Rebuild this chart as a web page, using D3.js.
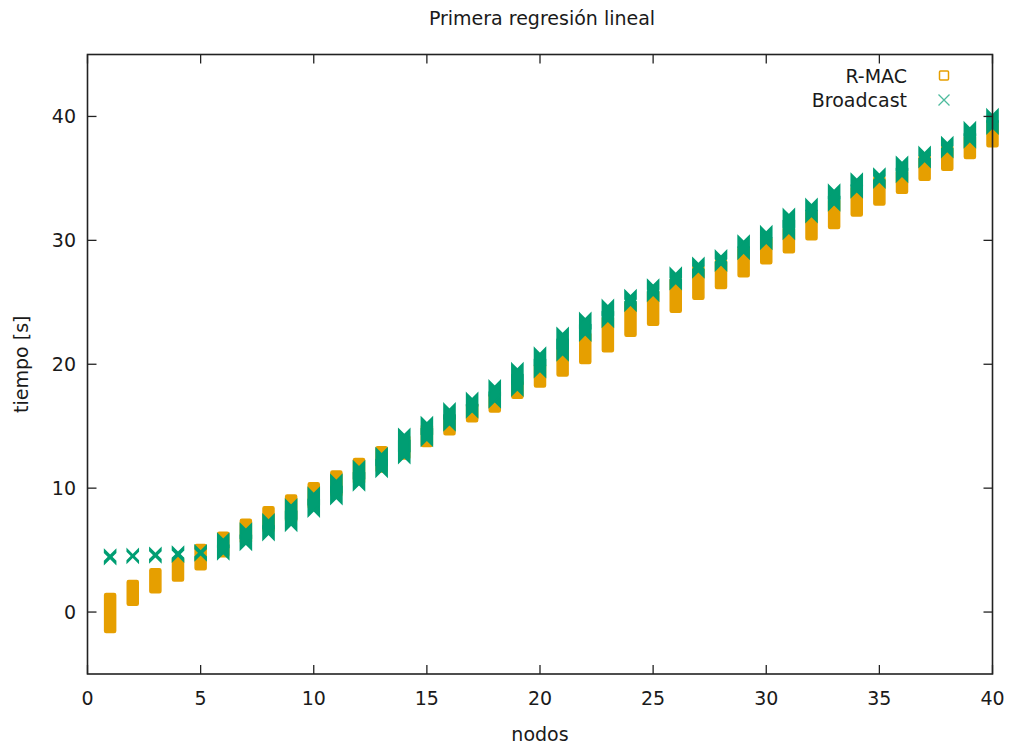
<!DOCTYPE html>
<html>
<head>
<meta charset="utf-8">
<script src="https://cdn.jsdelivr.net/npm/d3@7"></script>
<style>
  body { margin: 0; background: #fff; }
  text { font-family: "DejaVu Sans", sans-serif; fill: #1a1a1a; }
</style>
</head>
<body>
<svg width="1013" height="749"></svg>
<script>
// values: for each node count, lowest and highest time of each series
var nodos = [1, 2, 3, 4, 5, 6, 7, 8, 9, 10, 11, 12, 13, 14, 15, 16, 17, 18, 19, 20,
             21, 22, 23, 24, 25, 26, 27, 28, 29, 30, 31, 32, 33, 34, 35, 36, 37, 38, 39, 40];
var rmacMin = [-1.2, 1.0, 2.0, 2.95, 3.85, 4.9, 6.0, 6.9, 7.7, 8.8, 9.8, 10.8, 11.75, 12.8, 13.8, 14.75, 15.8, 16.6, 17.7, 18.6,
               19.5, 20.5, 21.45, 22.7, 23.6, 24.65, 25.7, 26.55, 27.5, 28.55, 29.45, 30.5, 31.4, 32.4, 33.3, 34.25, 35.3, 36.1, 37.05, 38.0];
var rmacMax = [1.05, 2.1, 3.05, 3.95, 5.0, 6.0, 7.05, 8.05, 9.0, 10.0, 10.95, 11.95, 12.9, 13.8, 14.7, 15.5, 16.4, 17.2, 18.2, 19.6,
               20.8, 22.1, 23.4, 24.6, 25.5, 26.5, 27.5, 28.0, 29.0, 29.8, 30.6, 31.9, 32.9, 33.9, 34.7, 35.2, 36.4, 37.2, 38.0, 39.1];
var bcMin = [4.35, 4.45, 4.5, 4.55, 4.65, 4.75, 5.5, 6.3, 7.05, 8.2, 9.2, 10.3, 11.4, 12.5, 13.9, 15.15, 16.2, 17.0, 17.95, 19.45,
             20.8, 22.4, 23.5, 24.8, 25.6, 26.55, 27.5, 28.05, 29.0, 29.8, 30.6, 31.95, 32.9, 33.95, 34.75, 35.2, 36.4, 37.2, 38.0, 39.1];
var bcMax = [4.55, 4.6, 4.7, 4.8, 4.9, 5.85, 6.65, 7.4, 8.6, 9.55, 10.6, 11.7, 12.75, 14.3, 15.25, 16.35, 17.2, 18.2, 19.6, 20.85,
             22.45, 23.65, 24.7, 25.5, 26.35, 27.3, 28.1, 28.7, 29.9, 30.65, 32.05, 32.85, 34.0, 34.9, 35.3, 36.25, 37.05, 37.85, 39.05, 40.1];

var xTicks = [0, 5, 10, 15, 20, 25, 30, 35, 40];
var yTicks = [0, 10, 20, 30, 40];

var naranja = "#e69f00",
    verde = "#009e73";

var svg = d3.select("svg"),
    plotL = 87.5, plotR = 992.5, plotT = 54.5, plotB = 674,
    h = 5.5, tick = 9, fs = 19;

var x = d3.scaleLinear().domain([0, 40]).range([plotL, plotR]);
var y = d3.scaleLinear().domain([-5, 45]).range([plotB, plotT]);

// R-MAC: stacked open squares merge into one rounded strip
svg.append("g").selectAll("rect")
    .data(nodos)
    .enter().append("rect")
      .attr("x", function(d) { return x(d) - h; })
      .attr("y", function(d, i) { return y(rmacMax[i]) - h; })
      .attr("width", 2 * h)
      .attr("height", function(d, i) { return y(rmacMin[i]) - y(rmacMax[i]) + 2 * h; })
      .attr("rx", 1.5)
      .attr("fill", naranja)
      .attr("stroke", naranja)
      .attr("stroke-width", 1.5);

// Broadcast: stacked crosses, each arm sweeps a parallelogram
function bandA(cx, t, b) {
  return "M" + (cx - h) + "," + (t - h) + "L" + (cx + h) + "," + (t + h) +
         "L" + (cx + h) + "," + (b + h) + "L" + (cx - h) + "," + (b - h) + "Z";
}
function bandB(cx, t, b) {
  return "M" + (cx - h) + "," + (t + h) + "L" + (cx + h) + "," + (t - h) +
         "L" + (cx + h) + "," + (b - h) + "L" + (cx - h) + "," + (b + h) + "Z";
}

var cruces = svg.append("g")
    .attr("fill", verde)
    .attr("stroke", verde)
    .attr("stroke-width", 1.6);

cruces.selectAll("path.a")
    .data(nodos)
    .enter().append("path")
      .attr("class", "a")
      .attr("d", function(d, i) { return bandA(x(d), y(bcMax[i]), y(bcMin[i])); });

cruces.selectAll("path.b")
    .data(nodos)
    .enter().append("path")
      .attr("class", "b")
      .attr("d", function(d, i) { return bandB(x(d), y(bcMax[i]), y(bcMin[i])); });

// frame and ticks (inside, mirrored)
var marco = svg.append("g").attr("stroke", "#222").attr("fill", "none");

marco.append("rect")
    .attr("x", plotL).attr("y", plotT)
    .attr("width", plotR - plotL).attr("height", plotB - plotT)
    .attr("stroke-width", 1.6);

xTicks.forEach(function(t) {
  marco.append("line").attr("x1", x(t)).attr("x2", x(t)).attr("y1", plotB).attr("y2", plotB - tick).attr("stroke-width", 1.3);
  marco.append("line").attr("x1", x(t)).attr("x2", x(t)).attr("y1", plotT).attr("y2", plotT + tick).attr("stroke-width", 1.3);
  svg.append("text")
      .attr("x", x(t)).attr("y", 705)
      .attr("text-anchor", "middle")
      .attr("font-size", fs)
      .text(t);
});

yTicks.forEach(function(t) {
  marco.append("line").attr("x1", plotL).attr("x2", plotL + tick).attr("y1", y(t)).attr("y2", y(t)).attr("stroke-width", 1.3);
  marco.append("line").attr("x1", plotR).attr("x2", plotR - tick).attr("y1", y(t)).attr("y2", y(t)).attr("stroke-width", 1.3);
  svg.append("text")
      .attr("x", 76).attr("y", y(t) + 6.8)
      .attr("text-anchor", "end")
      .attr("font-size", fs)
      .text(t);
});

// titles
svg.append("text")
    .attr("x", 542).attr("y", 25)
    .attr("text-anchor", "middle")
    .attr("font-size", fs)
    .text("Primera regresión lineal");

svg.append("text")
    .attr("x", 540).attr("y", 741)
    .attr("text-anchor", "middle")
    .attr("font-size", fs)
    .text("nodos");

svg.append("text")
    .attr("transform", "translate(28," + ((plotT + plotB) / 2) + ") rotate(-90)")
    .attr("text-anchor", "middle")
    .attr("font-size", fs)
    .text("tiempo [s]");

// legend
svg.append("text")
    .attr("x", 907).attr("y", 83)
    .attr("text-anchor", "end")
    .attr("font-size", fs)
    .text("R-MAC");
svg.append("text")
    .attr("x", 907).attr("y", 107)
    .attr("text-anchor", "end")
    .attr("font-size", fs)
    .text("Broadcast");

svg.append("rect")
    .attr("x", 944 - 4.5).attr("y", 75.5 - 4.5)
    .attr("width", 9).attr("height", 9)
    .attr("rx", 1)
    .attr("fill", "none")
    .attr("stroke", naranja)
    .attr("stroke-width", 1.5);
svg.append("path")
    .attr("d", "M938.5,94.5L949.5,105.5M938.5,105.5L949.5,94.5")
    .attr("fill", "none")
    .attr("stroke", verde)
    .attr("stroke-opacity", 0.7)
    .attr("stroke-width", 1.3);
</script>
</body>
</html>
